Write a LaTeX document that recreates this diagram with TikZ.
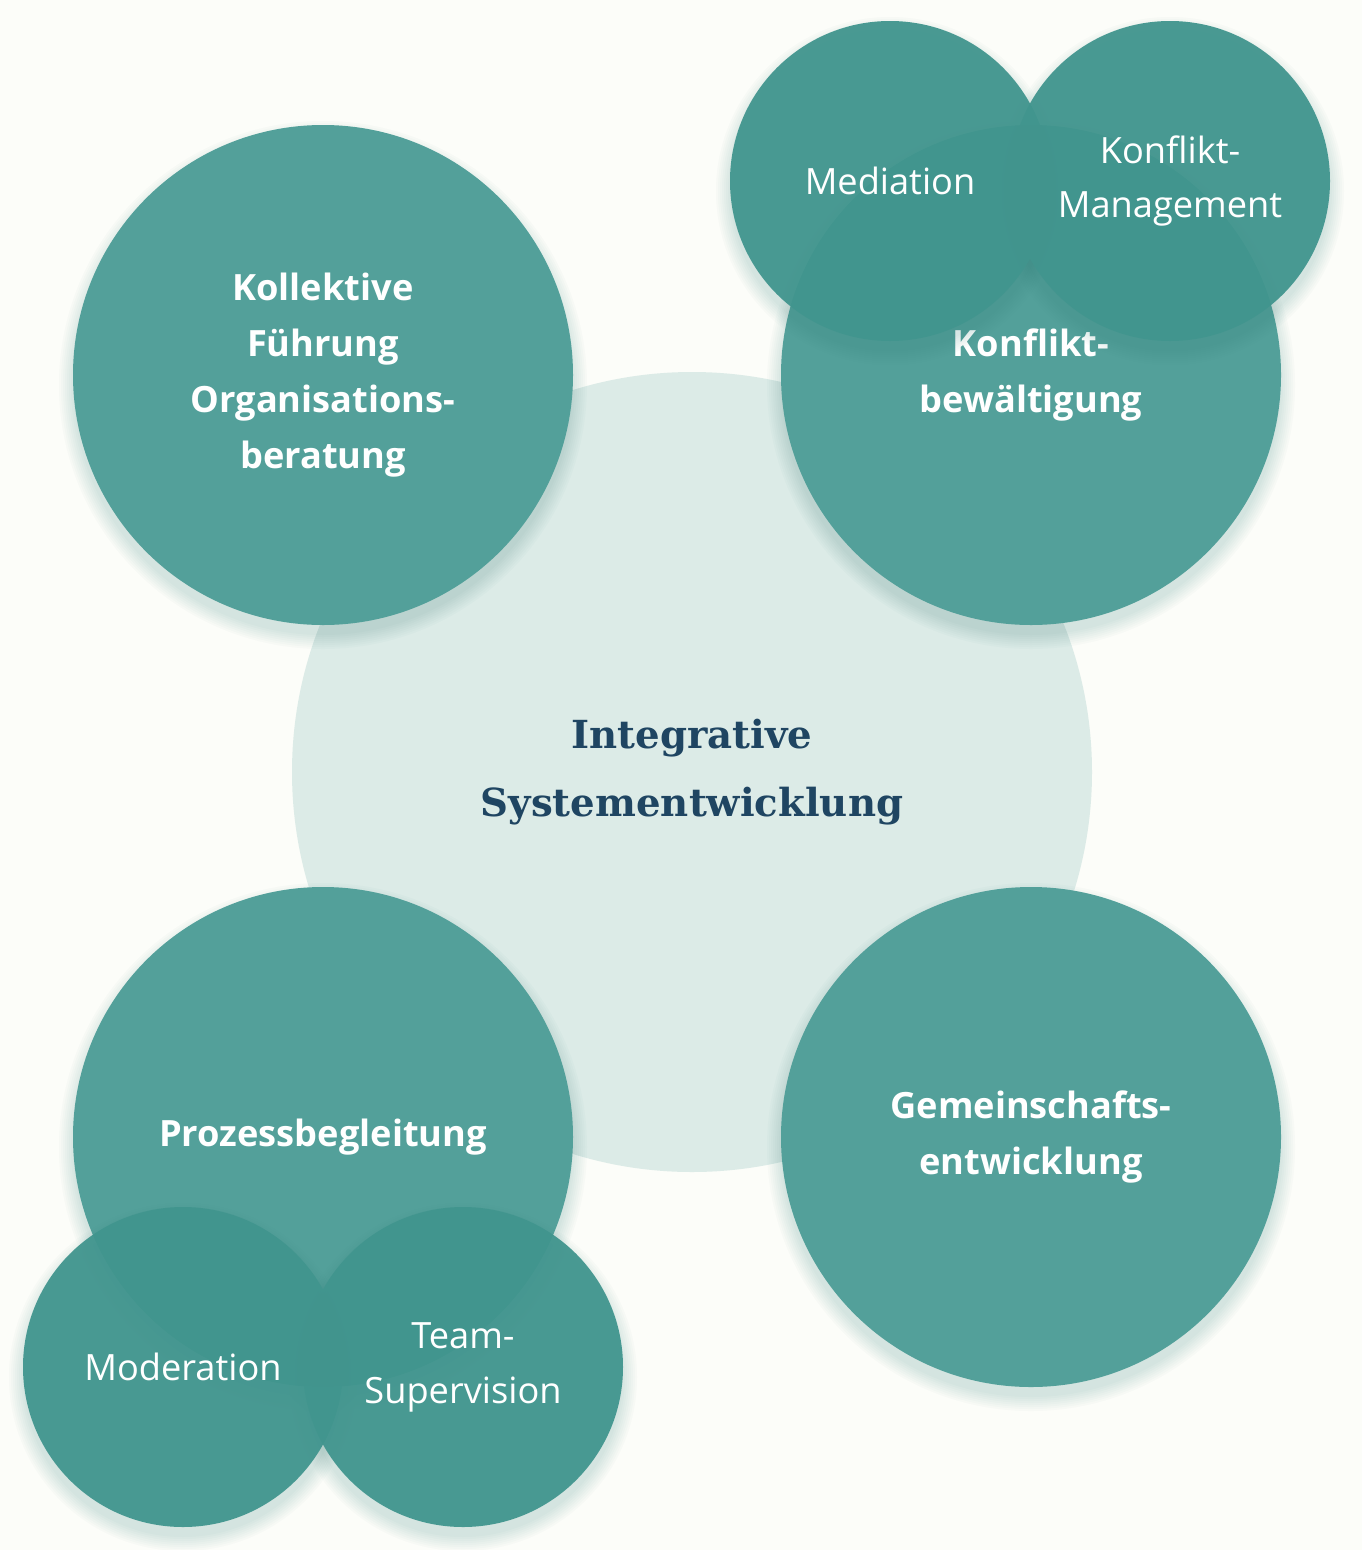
\documentclass[tikz,border=0pt]{standalone}
\usepackage{fontspec}
\setmainfont{Open Sans}
\newfontfamily\titlefont{DejaVu Serif}
\usetikzlibrary{positioning}
\definecolor{PageBg}{HTML}{FCFDF9}
\definecolor{CoreFill}{HTML}{DCEBE7}
\definecolor{MainTeal}{HTML}{53A09A}
\definecolor{SubTeal}{HTML}{41958E}
\definecolor{ShadowTeal}{HTML}{2E7D76}
\definecolor{TitleNavy}{HTML}{1F4562}
\tikzset{
  corenode/.style={circle,fill=CoreFill,minimum size=8cm,inner sep=0pt,
    align=center,text=TitleNavy,
    font=\titlefont\fontsize{11}{19.2}\selectfont\bfseries},
  mainnode/.style={circle,fill=MainTeal,minimum size=5cm,inner sep=0pt,
    align=center,text=white,
    font=\fontsize{10.3}{15.9}\selectfont\bfseries},
  subnode/.style={circle,fill=SubTeal,fill opacity=0.95,text opacity=1,
    minimum size=3.2cm,inner sep=0pt,align=center,text=white,
    font=\fontsize{10.3}{15.6}\selectfont},
  glow/.style={fill=ShadowTeal,opacity=0.022},
}

\begin{document}
\begin{tikzpicture}
  \fill[PageBg] (0,0) rectangle (13.62,-15.5);
  \useasboundingbox (0,0) rectangle (13.62,-15.5);
  % core
  \node[corenode] (core) at (6.92,-7.72) {Integrative\\Systementwicklung};
  % soft shadows under the main circles
  \foreach \cx/\cy in {3.23/-3.75,10.31/-3.75,3.23/-11.37,10.31/-11.37}
    \foreach \k in {1,...,8}
      \fill[glow] (\cx,\cy-0.1) circle ({2.48+0.02*\k});
  \node[mainnode] (fuehrung) at (3.23,-3.75) {Kollektive\\Führung\\Organisations-\\beratung};
  \node[mainnode] (konflikt) at (10.31,-3.75) {Konflikt-\\bewältigung};
  \node[mainnode] (prozess) at (3.23,-11.37) {Prozessbegleitung};
  \node[mainnode] (gemeinschaft) at (10.31,-11.37) {Gemeinschafts-\\entwicklung};
  % soft shadows under the sub circles
  \foreach \cx/\cy in {8.90/-1.81,11.70/-1.81,1.83/-13.67,4.63/-13.67}
    \foreach \k in {1,...,8}
      \fill[glow] (\cx,\cy-0.1) circle ({1.58+0.02*\k});
  \node[subnode] (mediation) at (8.90,-1.81) {Mediation};
  \node[subnode] (management) at (11.70,-1.81) {Konflikt-\\Management};
  \node[subnode] (moderation) at (1.83,-13.67) {Moderation};
  \node[subnode] (supervision) at (4.63,-13.67) {Team-\\Supervision};
\end{tikzpicture}
\end{document}
